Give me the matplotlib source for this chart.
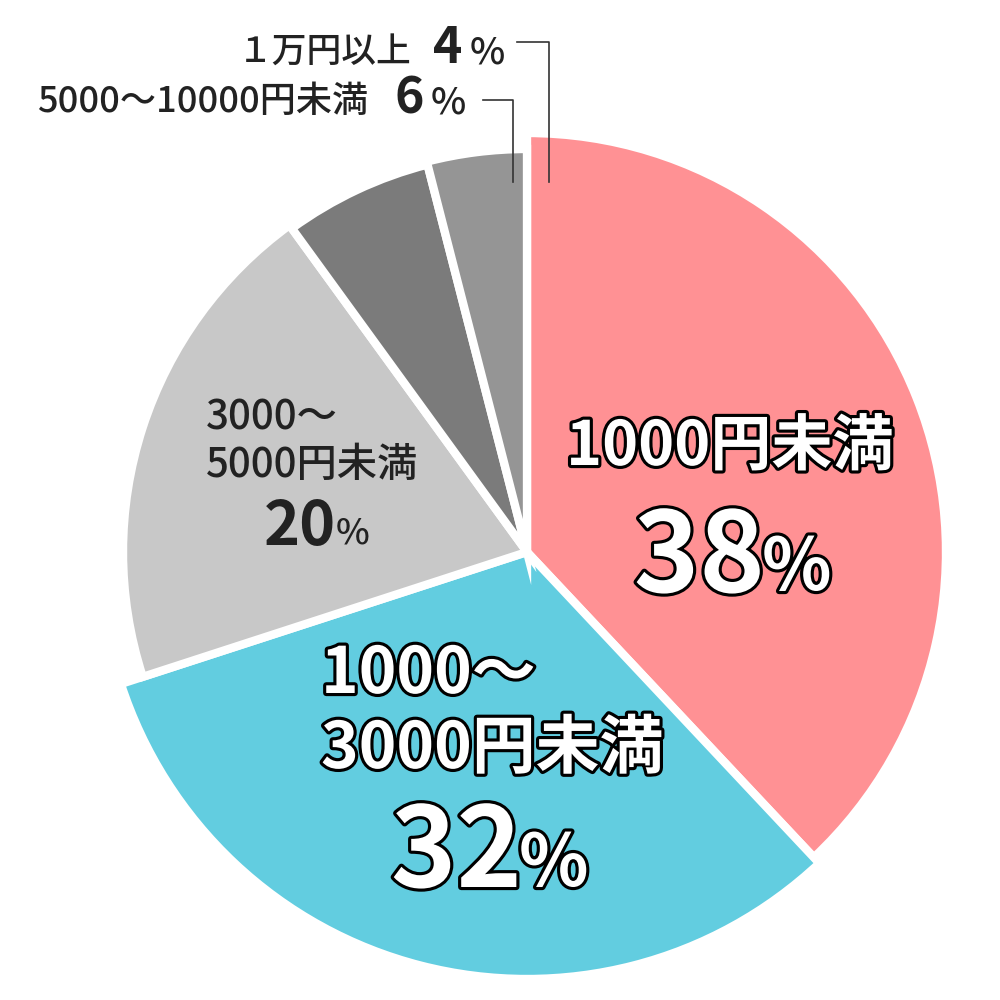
import matplotlib.pyplot as plt
import matplotlib.patheffects as pe

plt.rcParams['font.family'] = ['Noto Sans CJK JP', 'DejaVu Sans']

# data
labels = ['1000円未満', '1000～3000円未満', '3000～5000円未満', '5000～10000円未満', '１万円以上']
shares = [38, 32, 20, 6, 4]
colors = ['#ff9194', '#62cde0', '#c8c8c8', '#7b7b7b', '#959595']
radii = [419, 427, 404, 400, 403]

H = 1000


def py(y):
    # pixel row -> data y
    return H - y


fig = plt.figure(figsize=(10, 10), dpi=100)
ax = fig.add_axes([0, 0, 1, 1])

wedges, _ = ax.pie(shares, colors=colors, startangle=90, counterclock=False,
                   center=(527, py(552)), radius=400,
                   wedgeprops=dict(edgecolor='white', linewidth=6))
for w, r in zip(wedges, radii):
    w.set_radius(r)

ax.set_xlim(0, 1000)
ax.set_ylim(0, 1000)
ax.axis('off')

outline = [pe.withStroke(linewidth=4.5, foreground='black')]
dark = '#222222'


def put(x, y, s, size, ha='left', color=dark, weight='bold', fx=None):
    ax.text(x, py(y), s, fontsize=size, ha=ha, va='baseline', color=color,
            fontweight=weight, path_effects=fx)


# 1000円未満
put(730, 465, labels[0], 44, ha='center', color='white', fx=outline)
put(765, 592, str(shares[0]), 80, ha='right', color='white', fx=outline)
put(762, 590, '%', 52, color='white', fx=outline)

# 1000～3000円未満
put(321, 693, '1000～', 46, color='white', fx=outline)
put(321, 768, '3000円未満', 46, color='white', fx=outline)
put(522, 887, str(shares[1]), 80, ha='right', color='white', fx=outline)
put(519, 886, '%', 52, color='white', fx=outline)

# 3000～5000円未満
put(206, 430, '3000～', 29, weight='medium')
put(206, 477, '5000円未満', 29, weight='medium')
put(336, 545, str(shares[2]), 44, ha='right')
put(336, 544, '%', 26, weight='medium')

# top labels
put(412, 62, labels[4], 25, ha='right', weight='medium')
put(462, 63, str(shares[4]), 36, ha='right')
put(470, 63, '%', 27, weight='medium')
put(368, 112, labels[3], 26, ha='right', weight='medium')
put(424, 113, str(shares[3]), 36, ha='right')
put(431, 113, '%', 27, weight='medium')

# leader lines
ax.plot([517, 549, 549], [py(42), py(42), py(182)], color='#333333', lw=1.2)
ax.plot([483, 513, 513], [py(100), py(100), py(182)], color='#333333', lw=1.2)

fig.savefig('out.png', dpi=100)
